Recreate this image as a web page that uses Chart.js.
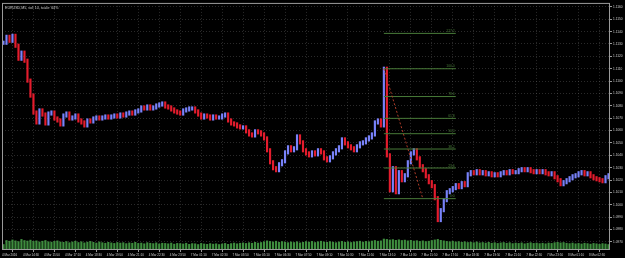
<!DOCTYPE html>
<html>
<head>
<meta charset="utf-8">
<script src="https://cdn.jsdelivr.net/npm/chart.js@4.4.1/dist/chart.umd.min.js"></script>
<style>
  html, body { margin: 0; padding: 0; background: #000; }
  #wrap { width: 625px; height: 258px; }
</style>
</head>
<body>
<div id="wrap"><canvas id="myChart" width="625" height="258"></canvas></div>
<script>
var title = 'EURUSD,M5, vol: 10, scale: 64%';

// one label every 7 bars
var timeLabels = ['4 Mar 2016', '4 Mar 14:30', '4 Mar 15:50', '4 Mar 17:10', '4 Mar 18:30', '4 Mar 19:50',
    '4 Mar 21:10', '4 Mar 22:30', '4 Mar 23:50', '7 Mar 01:10', '7 Mar 02:30', '7 Mar 03:50',
    '7 Mar 05:10', '7 Mar 06:30', '7 Mar 07:50', '7 Mar 09:10', '7 Mar 10:30', '7 Mar 11:50',
    '7 Mar 13:10', '7 Mar 14:30', '7 Mar 15:50', '7 Mar 17:10', '7 Mar 18:30', '7 Mar 19:50',
    '7 Mar 21:10', '7 Mar 22:30', '7 Mar 23:50', '8 Mar 01:10', '8 Mar 02:30'];

var closes = [
    1.11310, 1.11358, 1.11326, 1.11366, 1.11286, 1.11181, 1.11230, 1.11165, 1.11004, 1.10883,
    1.10746, 1.10666, 1.10763, 1.10730, 1.10658, 1.10738, 1.10746, 1.10698, 1.10682, 1.10650,
    1.10722, 1.10738, 1.10698, 1.10706, 1.10722, 1.10682, 1.10666, 1.10642, 1.10682, 1.10674,
    1.10698, 1.10706, 1.10698, 1.10706, 1.10714, 1.10706, 1.10714, 1.10722, 1.10714, 1.10730,
    1.10722, 1.10738, 1.10746, 1.10738, 1.10755, 1.10763, 1.10787, 1.10779, 1.10795, 1.10779,
    1.10787, 1.10803, 1.10811, 1.10819, 1.10795, 1.10787, 1.10771, 1.10755, 1.10746, 1.10738,
    1.10763, 1.10771, 1.10779, 1.10779, 1.10755, 1.10730, 1.10706, 1.10722, 1.10714, 1.10698,
    1.10714, 1.10706, 1.10706, 1.10722, 1.10730, 1.10682, 1.10658, 1.10650, 1.10634, 1.10626,
    1.10626, 1.10594, 1.10569, 1.10561, 1.10594, 1.10586, 1.10569, 1.10537, 1.10441, 1.10344,
    1.10296, 1.10280, 1.10328, 1.10352, 1.10424, 1.10465, 1.10441, 1.10457, 1.10553, 1.10505,
    1.10441, 1.10416, 1.10400, 1.10424, 1.10408, 1.10441, 1.10424, 1.10376, 1.10360, 1.10384,
    1.10416, 1.10441, 1.10465, 1.10529, 1.10497, 1.10473, 1.10457, 1.10441, 1.10473, 1.10497,
    1.10505, 1.10529, 1.10545, 1.10569, 1.10666, 1.10682, 1.10642, 1.11100, 1.10400, 1.10118,
    1.10296, 1.10102, 1.10264, 1.10199, 1.10239, 1.10344, 1.10416, 1.10441, 1.10376, 1.10312,
    1.10280, 1.10231, 1.10183, 1.10151, 1.10054, 1.09877, 1.09957, 1.10038, 1.10102, 1.10118,
    1.10135, 1.10159, 1.10143, 1.10175, 1.10159, 1.10247, 1.10264, 1.10255, 1.10272, 1.10255,
    1.10264, 1.10247, 1.10255, 1.10239, 1.10247, 1.10239, 1.10255, 1.10264, 1.10255, 1.10272,
    1.10264, 1.10264, 1.10280, 1.10288, 1.10280, 1.10288, 1.10272, 1.10264, 1.10272, 1.10264,
    1.10272, 1.10255, 1.10247, 1.10255, 1.10223, 1.10199, 1.10167, 1.10183, 1.10199, 1.10215,
    1.10231, 1.10239, 1.10255, 1.10264, 1.10247, 1.10255, 1.10231, 1.10215, 1.10207, 1.10199,
    1.10191, 1.10223, 1.10239
];

var volumes = [
    30, 52, 48, 55, 50, 46, 58, 52, 49, 54, 47, 50, 44, 48, 52, 45, 43, 47, 50, 44,
    42, 46, 40, 44, 48, 41, 45, 39, 43, 47, 42, 38, 44, 40, 37, 42, 39, 36, 41, 38,
    40, 35, 39, 37, 42, 36, 38, 34, 40, 37, 35, 39, 33, 37, 36, 34, 38, 32, 36, 35,
    33, 37, 31, 35, 34, 30, 36, 33, 31, 35, 32, 34, 30, 33, 36, 31, 35, 38, 34, 37,
    39, 36, 40, 37, 42, 38, 41, 45, 50, 47, 44, 48, 42, 46, 43, 40, 44, 41, 45, 39,
    42, 46, 43, 47, 41, 45, 48, 44, 42, 46, 43, 40, 44, 47, 42, 45, 41, 44, 46, 48,
    43, 47, 45, 49, 52, 48, 50, 60, 58, 55, 57, 53, 56, 52, 54, 50, 53, 49, 51, 47,
    50, 46, 48, 52, 55, 58, 53, 50, 47, 45, 48, 44, 46, 42, 45, 41, 43, 40, 44, 39,
    41, 38, 42, 37, 40, 36, 39, 41, 37, 40, 35, 38, 36, 39, 34, 37, 40, 36, 38, 35,
    37, 34, 38, 36, 40, 42, 39, 41, 37, 35, 38, 34, 36, 33, 37, 35, 32, 36, 34, 31,
    35, 33, 30
];

var fibLevels = [0.0, 23.6, 38.2, 50.0, 61.8, 78.6, 100.0, 127.2];
var fibHigh = 1.1110;
var fibLow = 1.1005;
var fibStart = 127;   // bar of the spike
var fibBaseEnd = 140; // bar where the base line ends
var fibEnd = 151;     // bar where level lines stop

var priceMin = 1.09635;
var priceMax = 1.11632;

var upColor = 'rgb(120,130,250)';
var downColor = 'rgb(228,28,45)';
var fibColor = 'rgb(72,122,56)';
var gridColor = 'rgba(110,110,110,0.38)';
var textColor = '#cfcfcf';
var fontFam = '"Liberation Sans", Arial, sans-serif';

var candles = [];
var candleColors = [];
for (var i = 0; i < closes.length; i++) {
    var o = i > 0 ? closes[i - 1] : closes[0];
    var c = closes[i];
    candles.push({ x: i, y: [Math.min(o, c) - 0.00014, Math.max(o, c) + 0.00014] });
    candleColors.push(c >= o ? upColor : downColor);
}

var volData = [];
for (var j = 0; j < volumes.length; j++) {
    volData.push({ x: j, y: volumes[j] });
}

var datasets = [
    {
        type: 'bar',
        data: volData,
        yAxisID: 'yv',
        backgroundColor: 'rgb(62,140,62)',
        barThickness: 1.5,
        grouped: false,
        order: 3
    },
    {
        type: 'bar',
        data: candles,
        yAxisID: 'y',
        backgroundColor: candleColors,
        barThickness: 1.5,
        grouped: false,
        order: 2
    }
];

fibLevels.forEach(function (lv) {
    var p = fibLow + (fibHigh - fibLow) * lv / 100;
    datasets.push({
        type: 'line',
        data: [{ x: fibStart, y: p }, { x: fibEnd, y: p }],
        yAxisID: 'y',
        borderColor: fibColor,
        borderWidth: 1,
        pointRadius: 0,
        order: 1
    });
});

datasets.push({
    type: 'line',
    data: [{ x: fibStart, y: fibHigh }, { x: fibBaseEnd, y: fibLow }],
    yAxisID: 'y',
    borderColor: 'rgb(175,60,40)',
    borderWidth: 1,
    borderDash: [2, 2],
    pointRadius: 0,
    order: 0
});

var mtPlugin = {
    id: 'mt',
    beforeDraw: function (chart) {
        var ctx = chart.ctx;
        ctx.save();
        ctx.fillStyle = '#000';
        ctx.fillRect(0, 0, chart.width, chart.height);
        ctx.restore();
    },
    afterDraw: function (chart) {
        var ctx = chart.ctx;
        var a = chart.chartArea;
        var xs = chart.scales.x;
        var ys = chart.scales.y;
        ctx.save();
        ctx.strokeStyle = '#9a9a9a';
        ctx.lineWidth = 1;
        ctx.strokeRect(a.left + 0.5, a.top + 0.5, a.right - a.left - 1, a.bottom - a.top - 1);

        ctx.fillStyle = textColor;
        ctx.font = '3.6px ' + fontFam;
        ctx.textAlign = 'left';
        ctx.textBaseline = 'top';
        ctx.fillText(title, a.left + 3, a.top + 3);

        ctx.fillStyle = fibColor;
        ctx.font = '3.4px ' + fontFam;
        ctx.textAlign = 'right';
        ctx.textBaseline = 'bottom';
        fibLevels.forEach(function (lv) {
            var p = fibLow + (fibHigh - fibLow) * lv / 100;
            ctx.fillText(lv.toFixed(1), xs.getPixelForValue(fibEnd) - 1, ys.getPixelForValue(p) - 0.5);
        });
        ctx.restore();
    }
};

var ctx = document.getElementById('myChart');

var myChart = new Chart(ctx, {
    type: 'bar',
    data: { datasets: datasets },
    options: {
        responsive: false,
        animation: false,
        layout: { padding: { left: 2, top: 2, right: 0, bottom: 0 } },
        plugins: {
            legend: { display: false },
            tooltip: { enabled: false }
        },
        scales: {
            x: {
                type: 'linear',
                min: -0.5,
                max: 202.5,
                offset: false,
                afterFit: function (s) { s.height = 8; },
                grid: {
                    color: gridColor,
                    tickColor: '#9a9a9a',
                    tickLength: 2,
                    drawTicks: true
                },
                border: { display: false, dash: [1, 2] },
                ticks: {
                    stepSize: 7,
                    includeBounds: false,
                    autoSkip: false,
                    maxRotation: 0,
                    align: 'start',
                    padding: 1,
                    color: textColor,
                    font: { size: 3, family: fontFam },
                    callback: function (v) {
                        var k = Math.round(v / 7);
                        return timeLabels[k] || '';
                    }
                }
            },
            y: {
                position: 'right',
                min: priceMin,
                max: priceMax,
                afterFit: function (s) { s.width = 15; },
                grid: {
                    color: gridColor,
                    tickColor: '#9a9a9a',
                    tickLength: 2
                },
                border: { display: false, dash: [1, 2] },
                ticks: {
                    stepSize: 0.001,
                    includeBounds: false,
                    padding: 1,
                    color: textColor,
                    font: { size: 3.2, family: fontFam },
                    callback: function (v) { return v.toFixed(4); }
                }
            },
            yv: {
                display: false,
                min: 0,
                max: 1350
            }
        }
    },
    plugins: [mtPlugin]
});
</script>
</body>
</html>
